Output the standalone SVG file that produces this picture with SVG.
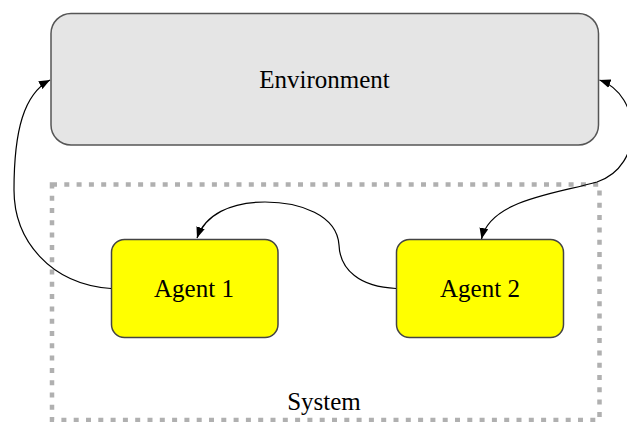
<svg xmlns="http://www.w3.org/2000/svg" width="627" height="422" viewBox="0 0 627 422">
  <style>
    .label { font-family: "Liberation Serif", "Times New Roman", serif; font-size: 25px; fill: #000; text-anchor: middle; }
    .env { fill: #e5e5e5; stroke: #555; stroke-width: 1.5; }
    .agent { fill: #ffff00; stroke: #444; stroke-width: 1.5; }
    .cluster { fill: none; stroke: #b0b0b0; stroke-width: 4.5; stroke-dasharray: 5 7.3; }
    .edge { fill: none; stroke: #000; stroke-width: 1.2; }
  </style>
  <defs>
    <marker id="arrow" viewBox="0 0 10 8" refX="10" refY="4" markerWidth="11" markerHeight="9" markerUnits="userSpaceOnUse" orient="auto-start-reverse">
      <path d="M0,0 L10,4 L0,8 Z" fill="#000"/>
    </marker>
  </defs>

  <g id="cluster-system">
    <rect class="cluster" x="52" y="184.5" width="547.5" height="235.5"/>
    <text class="label" x="324" y="410">System</text>
  </g>

  <g id="node-environment">
    <rect class="env" x="51" y="13.5" width="547.5" height="131.5" rx="20" ry="20"/>
    <text class="label" x="324.5" y="88">Environment</text>
  </g>

  <g id="node-agent1">
    <rect class="agent" x="111.5" y="239.5" width="166.5" height="98" rx="13" ry="13"/>
    <text class="label" x="194" y="297">Agent 1</text>
  </g>

  <g id="node-agent2">
    <rect class="agent" x="396.5" y="239.5" width="167" height="98" rx="13" ry="13"/>
    <text class="label" x="480" y="297">Agent 2</text>
  </g>

  <g id="edges">
    <!-- Agent 1 -> Environment -->
    <path class="edge" marker-end="url(#arrow)" d="M111,288.5 C50,284 14,240 14,190 C14,130 24,94 50,80"/>
    <!-- Agent 2 -> Agent 1 -->
    <path class="edge" marker-end="url(#arrow)" d="M396,288.5 C360,287 340,270 339,245 C337,215 300,202 265,202 C230,202 205,215 197,238"/>
    <!-- Environment <-> Agent 2 -->
    <path class="edge" marker-start="url(#arrow)" marker-end="url(#arrow)" d="M481.5,239 C490,200 555,194 597,182 C645,166 642,95 599.5,80"/>
  </g>
</svg>
